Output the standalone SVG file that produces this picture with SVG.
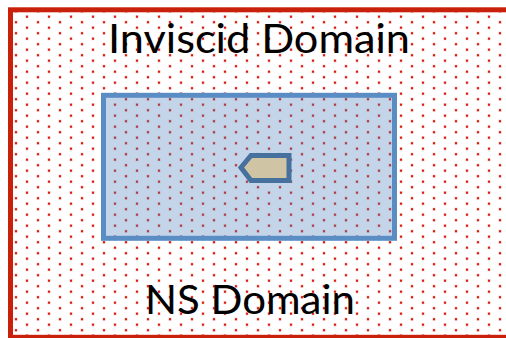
<svg xmlns="http://www.w3.org/2000/svg" width="506" height="338" viewBox="0 0 506 338">
  <defs>
    <pattern id="dots" patternUnits="userSpaceOnUse" x="0" y="3" width="22" height="11">
      <rect x="3.5" y="1.2" width="3" height="3" fill="#e8706a" fill-opacity="0.45"/>
      <rect x="14.5" y="6.7" width="3" height="3" fill="#e8706a" fill-opacity="0.45"/>
      <rect x="4" y="1.7" width="2" height="2" fill="#d81e0e"/>
      <rect x="15" y="7.2" width="2" height="2" fill="#d81e0e"/>
    </pattern>
  </defs>
  <style>
    .lbl { font-family: Lato, "Open Sans", "Liberation Sans", sans-serif; font-size: 41px; fill: #000; }
  </style>
  <rect width="506" height="338" fill="#ffffff"/>
  <g id="inviscid-domain">
    <rect x="10.5" y="9.8" width="510" height="327.5" fill="url(#dots)" stroke="#c8200b" stroke-width="5"/>
    <text class="lbl" x="108" y="53.3" textLength="302" lengthAdjust="spacingAndGlyphs">Inviscid Domain</text>
  </g>
  <g id="ns-domain">
    <rect x="103.5" y="95.3" width="291" height="143" fill="#4f81bd" fill-opacity="0.33" stroke="#5b8dc5" stroke-width="5"/>
    <text class="lbl" x="145" y="314.3" textLength="210" lengthAdjust="spacingAndGlyphs">NS Domain</text>
  </g>
  <g id="body">
    <polygon points="241,167.5 251,155.5 289,155.5 289,180.5 251,180.5" fill="#cfc5a4" stroke="#46709e" stroke-width="5" stroke-linejoin="miter"/>
  </g>
  <g id="connectors"/>
</svg>
